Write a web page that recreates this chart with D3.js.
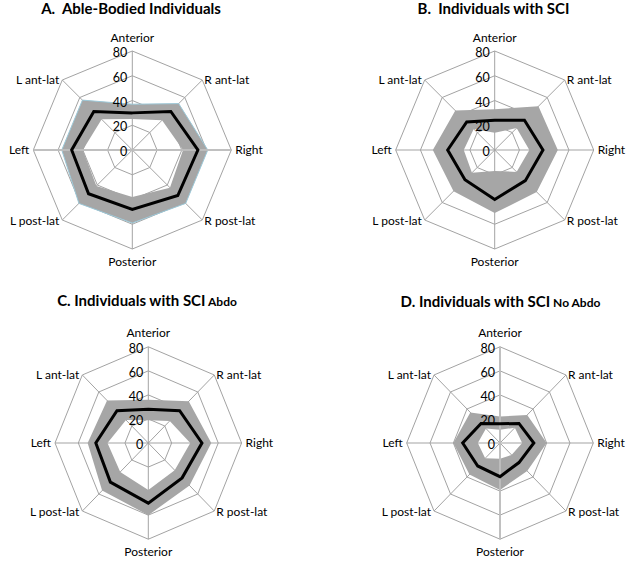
<!DOCTYPE html>
<html>
<head>
<meta charset="utf-8">
<script src="https://cdn.jsdelivr.net/npm/d3@7"></script>
<style>
body { margin: 0; background: #fff; }
text { font-family: Lato, "Liberation Sans", sans-serif; fill: #000; }
.title { white-space: pre; }
</style>
</head>
<body>
<svg id="chart" width="642" height="564"></svg>
<script>
// radar panels: mean line with shaded band (lower..upper)

var axes = ["Anterior", "R ant-lat", "Right", "R post-lat", "Posterior", "L post-lat", "Left", "L ant-lat"];
var ticks = [0, 20, 40, 60, 80];

var ableMean  = [30, 44, 53, 52, 48, 50, 49, 44];
var ableUpper = [37, 53, 61, 61, 59, 61, 57, 57];
var ableLower = [25, 34, 41, 43, 38, 41, 40, 35];

var sciMean  = [24, 34, 39, 35, 40, 34, 38, 32];
var sciUpper = [33, 50, 51, 48, 51, 47, 50, 45];
var sciLower = [14, 25, 28, 25, 17, 26, 25, 24];

var abdoMean  = [28, 38, 46, 41, 50, 46, 45, 38];
var abdoUpper = [36, 49, 54, 50, 60, 56, 52, 50];
var abdoLower = [19, 26, 36, 32, 39, 34, 35, 27];

var noAbdoMean  = [16, 23, 29, 23, 28, 27, 32, 23];
var noAbdoUpper = [22, 33, 40, 33, 39, 37, 40, 36];
var noAbdoLower = [11, 18, 19, 14, 13, 18, 19, 17];

var panels = [
  {title: "A.  Able-Bodied Individuals", sub: "", mean: ableMean, upper: ableUpper, lower: ableLower,
   cx: 132.3, cy: 150, rx: 99, ry: 99, tx: 131, ty: 13.5, axisLine: 2, edge: "#9cc8d8"},
  {title: "B.  Individuals with SCI", sub: "", mean: sciMean, upper: sciUpper, lower: sciLower,
   cx: 494.7, cy: 150, rx: 99, ry: 99, tx: 493.5, ty: 13.5, axisLine: -1, edge: null},
  {title: "C. Individuals with SCI", sub: " Abdo", mean: abdoMean, upper: abdoUpper, lower: abdoLower,
   cx: 148.3, cy: 443, rx: 93.3, ry: 96.2, tx: 147, ty: 305.5, axisLine: -1, edge: null},
  {title: "D. Individuals with SCI", sub: " No Abdo", mean: noAbdoMean, upper: noAbdoUpper, lower: noAbdoLower,
   cx: 500, cy: 443, rx: 93.3, ry: 96.2, tx: 500.5, ty: 307, axisLine: 0, edge: null}
];

var svg = d3.select("#chart");
var n = axes.length;
var angle = d3.scaleLinear().domain([0, n]).range([0, 2 * Math.PI]);

panels.forEach(function(p) {
  var g = svg.append("g");
  var sx = d3.scaleLinear().domain([0, 80]).range([0, p.rx]);
  var sy = d3.scaleLinear().domain([0, 80]).range([0, p.ry]);
  var px = function(v, i) { return p.cx + sx(v) * Math.sin(angle(i)); };
  var py = function(v, i) { return p.cy - sy(v) * Math.cos(angle(i)); };
  var poly = d3.line().x(function(d) { return px(d.v, d.i); })
                      .y(function(d) { return py(d.v, d.i); })
                      .curve(d3.curveLinearClosed);
  var pts = function(arr) { return arr.map(function(v, i) { return {v: v, i: i}; }); };

  // rings
  ticks.slice(1).forEach(function(t) {
    g.append("path")
      .attr("d", poly(pts(axes.map(function() { return t; }))))
      .attr("fill", "none").attr("stroke", "#a3a3a3").attr("stroke-width", 1);
  });
  // spokes
  axes.forEach(function(a, i) {
    g.append("line")
      .attr("x1", p.cx).attr("y1", p.cy)
      .attr("x2", px(80, i)).attr("y2", py(80, i))
      .attr("stroke", "#a3a3a3").attr("stroke-width", 1);
  });

  // band
  g.append("path")
    .attr("d", poly(pts(p.upper)) + poly(pts(p.lower)))
    .attr("fill", "#a6a6a6").attr("fill-rule", "evenodd")
    .attr("stroke", "none");
  if (p.edge) {
    g.append("path").attr("d", poly(pts(p.upper)))
      .attr("fill", "none").attr("stroke", p.edge).attr("stroke-width", 1);
  }

  // highlighted axis line (value axis)
  if (p.axisLine >= 0) {
    var k = p.axisLine;
    g.append("line")
      .attr("x1", px(80, k)).attr("y1", py(80, k))
      .attr("x2", px(80, k + 4)).attr("y2", py(80, k + 4))
      .attr("stroke", "#bfbfbf").attr("stroke-width", 2).attr("opacity", 0.9);
  }

  // mean
  g.append("path")
    .attr("d", poly(pts(p.mean)))
    .attr("fill", "none").attr("stroke", "#000").attr("stroke-width", 3)
    .attr("stroke-linejoin", "miter");

  // tick labels
  ticks.forEach(function(t) {
    g.append("text")
      .attr("x", p.cx - 5).attr("y", p.cy - sy(t) + 6)
      .attr("text-anchor", "end")
      .attr("font-size", 12.5).text(t);
  });

  // axis labels
  axes.forEach(function(a, i) {
    var x = px(80, i), y = py(80, i);
    var t = g.append("text").attr("font-size", 12).text(a);
    if (i === 0) {
      t.attr("x", x).attr("y", y - 9.5).attr("text-anchor", "middle");
    } else if (i === 4) {
      t.attr("x", x).attr("y", y + 17).attr("text-anchor", "middle");
    } else if (i < 4) {
      t.attr("x", x + (i === 2 ? 4 : 2)).attr("y", y + (i === 3 ? 5 : 4));
    } else {
      t.attr("x", x - (i === 6 ? 4 : 3)).attr("y", y + (i === 5 ? 5 : 4))
       .attr("text-anchor", "end");
    }
  });

  // title
  var tt = g.append("text").attr("class", "title")
    .attr("x", p.tx).attr("y", p.ty)
    .attr("text-anchor", "middle").attr("font-weight", "bold").attr("font-size", 15)
    .text(p.title);
  if (p.sub) {
    tt.append("tspan").attr("font-size", 12).text(p.sub);
  }
});
</script>
</body>
</html>
